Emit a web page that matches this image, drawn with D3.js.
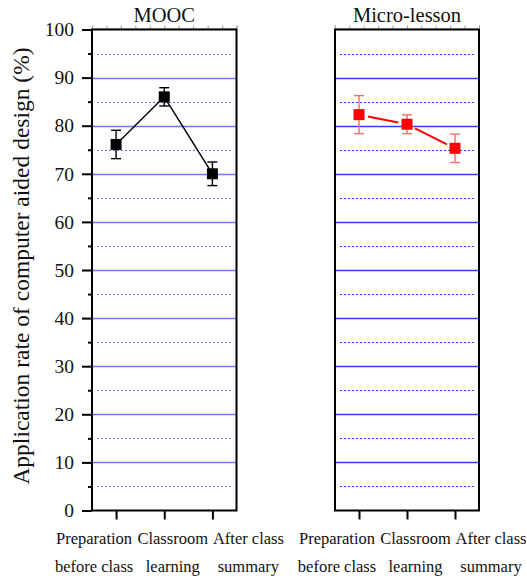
<!DOCTYPE html>
<html lang="en">
<head>
    <meta charset="UTF-8">
    <script src="https://d3js.org/d3.v7.min.js"></script>
    <style>
        body {
            margin: 0;
            background: white;
        }
        svg text {
            font-family: "Liberation Serif", "Times New Roman", serif;
            fill: #111;
        }
    </style>
</head>
<body>
    <svg id="chart" width="527" height="581" font-family="Liberation Serif, serif"></svg>
    <script>
        // data
        const categories = ["Preparation before class", "Classroom learning", "After class summary"];
        const labelTop = ["Preparation", "Classroom", "After class"];
        const labelBottom = ["before class", "learning", "summary"];
        const labelShift = [-22, 8.5, 36];

        const panelTitles = ["MOOC", "Micro-lesson"];
        const moocMean = [76.1, 86.0, 70.0];
        const moocErr = [2.95, 1.9, 2.45];
        const microMean = [82.3, 80.3, 75.3];
        const microErr = [3.95, 1.95, 2.95];

        const majorTicks = [0, 10, 20, 30, 40, 50, 60, 70, 80, 90, 100];
        const minorTicks = [5, 15, 25, 35, 45, 55, 65, 75, 85, 95];
        const solidGrid = [10, 20, 30, 40, 50, 60, 70, 80, 90];

        const svg = d3.select("#chart");

        const y = d3.scaleLinear().domain([0, 100]).range([510.5, 29.5]);
        const crisp = v => Math.round(y(v)) + 0.5;

        const panels = [
            { title: panelTitles[0], x0: 92, x1: 236.5, mean: moocMean, err: moocErr,
              color: "#000", errColor: "#000", grid: "#7373ff", gridDot: "#6a6aff", gap: 0, lw: 1.4, yAxis: true },
            { title: panelTitles[1], x0: 335, x1: 479, mean: microMean, err: microErr,
              color: "#ff0000", errColor: "#ff6a6a", grid: "#3a3aff", gridDot: "#3a3aff", gap: 9, lw: 2, yAxis: false }
        ];

        panels.forEach(p => {
            const x = d3.scalePoint()
                .domain(categories)
                .range([p.x0, p.x1])
                .padding(0.5);

            const g = svg.append("g");

            // grid lines
            g.selectAll(".solid")
                .data(solidGrid)
                .enter().append("line")
                .attr("x1", p.x0).attr("x2", p.x1)
                .attr("y1", d => crisp(d)).attr("y2", d => crisp(d))
                .attr("stroke", p.grid)
                .attr("stroke-width", 1.3);

            g.selectAll(".dot")
                .data(minorTicks)
                .enter().append("line")
                .attr("x1", p.x0 + 5).attr("x2", p.x1 - 4)
                .attr("y1", d => crisp(d)).attr("y2", d => crisp(d))
                .attr("stroke", p.gridDot)
                .attr("stroke-width", 1)
                .attr("stroke-dasharray", "2,2");

            // small ticks on the top edge
            const xt = d3.scaleLinear().domain([0, 10]).range([p.x0, p.x1]);
            g.append("g")
                .attr("transform", `translate(0,${y(100) - 1})`)
                .call(d3.axisTop(xt).ticks(10).tickSize(3).tickFormat(""))
                .call(a => a.select(".domain").attr("stroke", "#aaa"))
                .call(a => a.selectAll(".tick line").attr("stroke", "#999"));

            // frame
            g.append("rect")
                .attr("x", p.x0).attr("y", y(100))
                .attr("width", p.x1 - p.x0)
                .attr("height", y(0) - y(100))
                .attr("fill", "none")
                .attr("stroke", "#000")
                .attr("stroke-width", 2);

            // bottom ticks
            g.append("g")
                .attr("transform", `translate(0,${y(0)})`)
                .call(d3.axisBottom(x).tickSize(9).tickFormat(""))
                .call(a => a.select(".domain").remove())
                .call(a => a.selectAll(".tick line").attr("stroke", "#000").attr("stroke-width", 2));

            // category labels
            categories.forEach((c, i) => {
                g.append("text")
                    .attr("x", x(c) + labelShift[i])
                    .attr("y", 544)
                    .attr("text-anchor", "middle")
                    .style("font-size", "16.5px")
                    .text(labelTop[i]);
                g.append("text")
                    .attr("x", x(c) + labelShift[i])
                    .attr("y", 572)
                    .attr("text-anchor", "middle")
                    .style("font-size", "16.5px")
                    .text(labelBottom[i]);
            });

            // y axis
            if (p.yAxis) {
                g.append("g")
                    .attr("transform", `translate(${p.x0},0)`)
                    .call(d3.axisLeft(y).tickValues(minorTicks).tickSize(4).tickFormat(""))
                    .call(a => a.select(".domain").remove())
                    .call(a => a.selectAll(".tick line").attr("stroke", "#000").attr("stroke-width", 2));

                g.append("g")
                    .attr("transform", `translate(${p.x0},0)`)
                    .call(d3.axisLeft(y).tickValues(majorTicks).tickSize(10).tickPadding(8))
                    .attr("font-family", "Liberation Serif, serif")
                    .attr("font-size", 19.5)
                    .call(a => a.select(".domain").remove())
                    .call(a => a.selectAll(".tick line").attr("stroke", "#000").attr("stroke-width", 2))
                    .call(a => a.selectAll(".tick text").attr("fill", "#111"));
            }

            // title
            g.append("text")
                .attr("x", (p.x0 + p.x1) / 2)
                .attr("y", 21.5)
                .attr("text-anchor", "middle")
                .style("font-size", "20.5px")
                .text(p.title);

            const pts = categories.map((c, i) => ({ cx: x(c), cy: y(p.mean[i]), i }));

            // connecting line (with gaps around symbols if needed)
            for (let k = 0; k < pts.length - 1; k++) {
                const a = pts[k], b = pts[k + 1];
                const dx = b.cx - a.cx, dy = b.cy - a.cy;
                const len = Math.sqrt(dx * dx + dy * dy);
                const ux = dx / len, uy = dy / len;
                g.append("line")
                    .attr("x1", a.cx + ux * p.gap).attr("y1", a.cy + uy * p.gap)
                    .attr("x2", b.cx - ux * p.gap).attr("y2", b.cy - uy * p.gap)
                    .attr("stroke", p.color)
                    .attr("stroke-width", p.lw);
            }

            // error bars
            pts.forEach(d => {
                const top = y(p.mean[d.i] + p.err[d.i]);
                const bot = y(p.mean[d.i] - p.err[d.i]);
                g.append("line")
                    .attr("x1", d.cx).attr("x2", d.cx)
                    .attr("y1", top).attr("y2", bot)
                    .attr("stroke", p.errColor).attr("stroke-width", 1.4);
                [top, bot].forEach(yy => {
                    g.append("line")
                        .attr("x1", d.cx - 5).attr("x2", d.cx + 5)
                        .attr("y1", yy).attr("y2", yy)
                        .attr("stroke", p.errColor).attr("stroke-width", 1.4);
                });
            });

            // square markers
            g.selectAll(".sq")
                .data(pts)
                .enter().append("rect")
                .attr("x", d => d.cx - 5.5)
                .attr("y", d => d.cy - 5.5)
                .attr("width", 11)
                .attr("height", 11)
                .attr("fill", p.color);
        });

        // y axis title
        svg.append("text")
            .attr("transform", `translate(29,266) rotate(-90)`)
            .attr("text-anchor", "middle")
            .style("font-size", "23.5px")
            .text("Application rate of computer aided design (%)");
    </script>
</body>
</html>
